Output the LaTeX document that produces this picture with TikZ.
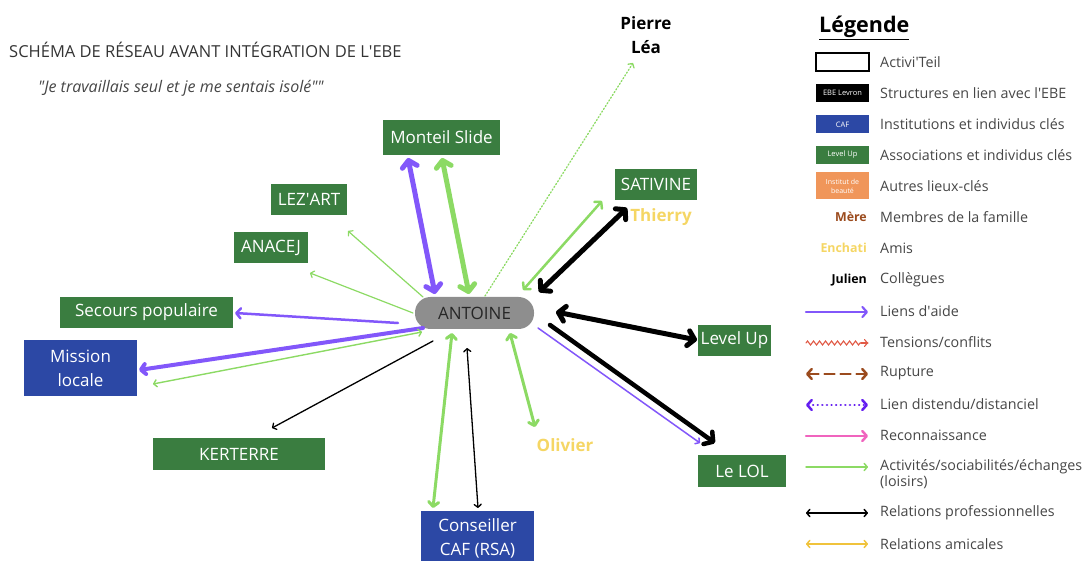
\documentclass[tikz,border=0pt]{standalone}
\usepackage{fontspec}
\setmainfont{Open Sans}
\usetikzlibrary{arrows.meta,decorations.pathmorphing,calc}
\definecolor{boxgreen}{RGB}{58,125,64}
\definecolor{boxblue}{RGB}{44,72,165}
\definecolor{violA}{RGB}{130,87,250}
\definecolor{lgreen}{RGB}{140,218,100}
\definecolor{ytxt}{RGB}{245,214,100}
\definecolor{brownA}{RGB}{155,75,30}
\definecolor{orangeA}{RGB}{240,150,90}
\definecolor{pillgray}{RGB}{142,142,142}
\definecolor{legtxt}{RGB}{70,70,70}
\definecolor{redA}{RGB}{225,90,70}
\definecolor{pinkA}{RGB}{240,100,190}
\definecolor{dvio}{RGB}{100,30,240}
\definecolor{yarrow}{RGB}{240,195,60}
\newcommand{\ap}{\textquotesingle}
\newcommand{\dq}{\textquotedbl}
\tikzset{
  hL/.tip={Straight Barb[length=6.5pt,width=15pt,round]},
  hM/.tip={Straight Barb[length=4.5pt,width=10pt,round]},
  hS/.tip={Straight Barb[length=3pt,width=7pt,round]},
  gbox/.style={rectangle, fill=boxgreen, text=white, inner sep=0pt, font=\fontsize{17}{24}\selectfont, align=center},
  bbox/.style={rectangle, fill=boxblue, text=white, inner sep=0pt, font=\fontsize{17}{24}\selectfont, align=center},
  person/.style={font=\bfseries\fontsize{17}{24}\selectfont, align=center},
  conn/.style={line cap=round},
  legbox/.style={rectangle, minimum width=53pt, minimum height=18pt, inner sep=0pt, text=white, font=\fontsize{7.5}{9.5}\selectfont, align=center},
  leglabel/.style={anchor=west, text=legtxt, font=\fontsize{14.3}{15.5}\selectfont, align=left, inner sep=0pt},
  legname/.style={anchor=east, font=\bfseries\fontsize{12.4}{14}\selectfont, inner sep=0pt},
}
\begin{document}
\begin{tikzpicture}[x=1pt,y=-1pt]
\useasboundingbox (0,0) rectangle (1082,561);
% titles
\node[anchor=west, inner sep=0pt, text=black!80, font=\fontsize{16.5}{19}\selectfont] (title) at (9,50) {SCHÉMA DE RÉSEAU AVANT INTÉGRATION DE L\ap EBE};
\node[anchor=west, inner sep=0pt, text=legtxt, font=\itshape\fontsize{16}{18}\selectfont] (quote) at (38,88) {\dq Je travaillais seul et je me sentais isolé\dq\dq};
% nodes
\node[rectangle, rounded corners=15.5pt, fill=pillgray, minimum width=119pt, minimum height=32pt, inner sep=0pt, text=black!85, font=\fontsize{17}{18}\selectfont] (antoine) at (474.5,313) {ANTOINE};
\node[gbox, minimum width=117pt, minimum height=35pt] (monteil) at (441.5,137.5) {Monteil Slide};
\node[gbox, minimum width=76pt, minimum height=31pt] (lezart) at (309,199.5) {LEZ\ap ART};
\node[gbox, minimum width=74pt, minimum height=31pt] (anacej) at (271,247.5) {ANACEJ};
\node[gbox, minimum width=173pt, minimum height=31pt] (secours) at (146.5,312.5) {Secours populaire};
\node[bbox, minimum width=113pt, minimum height=55pt] (mission) at (80.5,368) {Mission\\locale};
\node[gbox, minimum width=172pt, minimum height=32pt] (kerterre) at (239,454) {KERTERRE};
\node[bbox, minimum width=113pt, minimum height=54pt] (caf) at (477.5,538) {Conseiller\\CAF (RSA)};
\node[gbox, minimum width=82pt, minimum height=31pt] (sativine) at (656,184.5) {SATIVINE};
\node[gbox, minimum width=73pt, minimum height=31pt] (levelup) at (734.5,340.5) {Level Up};
\node[gbox, minimum width=88pt, minimum height=32pt] (lelol) at (742,471) {Le LOL};
\node[person] (pierre) at (646,35) {Pierre\\Léa};
\node[person, text=ytxt] (thierry) at (661,217) {Thierry};
\node[person, text=ytxt] (olivier) at (565,445) {Olivier};
% connector end points
\coordinate (m1) at (408,158); \coordinate (a1) at (435,294);
\coordinate (m2) at (442,158); \coordinate (a2) at (469,294);
\coordinate (a3) at (485,296); \coordinate (pl) at (633,63);
\coordinate (s1) at (602,201); \coordinate (a4) at (523,290);
\coordinate (s2) at (627,208); \coordinate (a5) at (539,292);
\coordinate (a6) at (423,297); \coordinate (lz) at (348,231);
\coordinate (a7) at (413,313); \coordinate (an) at (310,273);
\coordinate (a8) at (398,323); \coordinate (sp) at (235,313);
\coordinate (a9) at (423,328); \coordinate (ml1) at (139,370);
\coordinate (a10) at (422,332); \coordinate (ml2) at (153,384);
\coordinate (a11) at (433,341); \coordinate (kt) at (272,428);
\coordinate (a12) at (452,333); \coordinate (cf1) at (433,508);
\coordinate (a13) at (467,348); \coordinate (cf2) at (478,508);
\coordinate (a14) at (510,333); \coordinate (ol) at (535,427);
\coordinate (a15) at (556,312); \coordinate (lu) at (697,340);
\coordinate (a16) at (538,328); \coordinate (ll1) at (700,443);
\coordinate (a17) at (550,325); \coordinate (ll2) at (715,443);
% connectors
\draw[conn, violA, line width=5pt, hL-hL] (m1) -- (a1);
\draw[conn, lgreen, line width=5pt, hL-hL] (m2) -- (a2);
\draw[conn, lgreen, line width=1.3pt, dotted, -hS] (a3) -- (pl);
\draw[conn, lgreen, line width=2.5pt, hM-hM] (s1) -- (a4);
\draw[conn, black, line width=5pt, hL-hL] (s2) -- (a5);
\draw[conn, lgreen, line width=1.2pt, -hS] (a6) -- (lz);
\draw[conn, lgreen, line width=1.2pt, -hS] (a7) -- (an);
\draw[conn, violA, line width=2.5pt, -hM] (a8) -- (sp);
\draw[conn, violA, line width=4pt, -hM] (a9) -- (ml1);
\draw[conn, lgreen, line width=1.4pt, hS-hS] (a10) -- (ml2);
\draw[conn, black, line width=1.3pt, -hS] (a11) -- (kt);
\draw[conn, lgreen, line width=3pt, hM-hM] (a12) -- (cf1);
\draw[conn, black, line width=1.3pt, hS-hS] (a13) -- (cf2);
\draw[conn, lgreen, line width=3pt, hM-hM] (a14) -- (ol);
\draw[conn, black, line width=5pt, hL-hL] (a15) -- (lu);
\draw[conn, violA, line width=1.5pt, -hS] (a16) -- (ll1);
\draw[conn, black, line width=4.5pt, -hL] (a17) -- (ll2);
% legend
\node[anchor=west, inner sep=0pt, font=\bfseries\fontsize{21.5}{24}\selectfont] (legtitle) at (819,28) {\underline{Légende}};
\node[legbox, draw=black, line width=1.5pt, fill=white] (lb1) at (842.5,62) {};
\node[legbox, fill=black] (lb2) at (842.5,93) {EBE Levron};
\node[legbox, fill=boxblue] (lb3) at (842.5,124.5) {CAF};
\node[legbox, fill=boxgreen] (lb4) at (842.5,155) {Level Up};
\node[legbox, fill=orangeA, minimum height=27pt, font=\fontsize{7}{9}\selectfont] (lb5) at (842.5,186) {Institut de\\beauté};
\node[legname, text=brownA] (ln1) at (867,217) {Mère};
\node[legname, text=ytxt] (ln2) at (867,248) {Enchati};
\node[legname, text=black] (ln3) at (867,280) {Julien};
\node[leglabel] at (880,62) {Activi\ap Teil};
\node[leglabel] at (880,93) {Structures en lien avec l\ap EBE};
\node[leglabel] at (880,124.5) {Institutions et individus clés};
\node[leglabel] at (880,155) {Associations et individus clés};
\node[leglabel] at (880,186) {Autres lieux-clés};
\node[leglabel] at (880,217) {Membres de la famille};
\node[leglabel] at (880,248) {Amis};
\node[leglabel] at (880,280) {Collègues};
\node[leglabel] at (880,311) {Liens d\ap aide};
\node[leglabel] at (880,342) {Tensions/conflits};
\node[leglabel] at (880,373) {Rupture};
\node[leglabel] at (880,404) {Lien distendu/distanciel};
\node[leglabel] at (880,435) {Reconnaissance};
\node[leglabel] at (880,474) {Activités/sociabilités/échanges\\(loisirs)};
\node[leglabel] at (880,513) {Relations professionnelles};
\node[leglabel] at (880,544) {Relations amicales};
\coordinate (l1a) at (806,312); \coordinate (l1b) at (868,312);
\coordinate (l2a) at (806,343); \coordinate (l2b) at (868,343);
\coordinate (l2c) at (861,343);
\coordinate (l3a) at (806,374); \coordinate (l3b) at (868,374);
\coordinate (l4a) at (806,405); \coordinate (l4b) at (868,405);
\coordinate (l5a) at (806,436); \coordinate (l5b) at (868,436);
\coordinate (l6a) at (806,467); \coordinate (l6b) at (868,467);
\coordinate (l7a) at (806,513); \coordinate (l7b) at (868,513);
\coordinate (l8a) at (806,544); \coordinate (l8b) at (868,544);
\draw[conn, violA, line width=2.2pt, -hM] (l1a) -- (l1b);
\draw[conn, redA, line width=1.1pt, decorate, decoration={zigzag, amplitude=2pt, segment length=6pt, post length=6pt}] (l2a) -- (l2b);
\draw[conn, redA, line width=1.1pt, -hS] (l2c) -- (l2b);
\draw[conn, brownA, line width=2.5pt, dash pattern=on 10pt off 6pt, hM-hM] (l3a) -- (l3b);
\draw[conn, dvio, line width=2.5pt, dash pattern=on 0.1pt off 4.5pt, hM-hM] (l4a) -- (l4b);
\draw[conn, pinkA, line width=2.5pt, -hM] (l5a) -- (l5b);
\draw[conn, lgreen, line width=1.5pt, -hS] (l6a) -- (l6b);
\draw[conn, black, line width=1.5pt, hS-hS] (l7a) -- (l7b);
\draw[conn, yarrow, line width=1.5pt, hS-hS] (l8a) -- (l8b);
\end{tikzpicture}
\end{document}
